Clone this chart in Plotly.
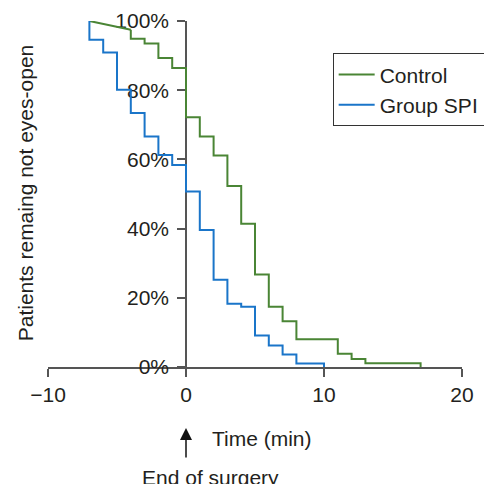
import plotly.graph_objects as go

# ---- data ----
# Control group: initial sloped lead-in, then Kaplan-Meier style steps
ctrl_lead_time = [-7, -4]
ctrl_lead_pct = [100, 97.5]
ctrl_time = [-4, -3, -2, -1, 0, 1, 2, 3, 4, 5, 6, 7, 8, 11, 12, 13, 17]
ctrl_pct = [94.9, 93.5, 89.3, 86.4, 72.2, 66.6, 61.1, 52.3, 41.4, 26.7,
            17.4, 13.2, 8.0, 3.8, 2.3, 1.05, 0]

# Group SPI
spi_start_time = -7
spi_start_pct = 100
spi_time = [-7, -6, -5, -4, -3, -2, -1, 0, 1, 2, 3, 4, 5, 6, 7, 8, 10]
spi_pct = [94.6, 90.9, 80.1, 73.4, 66.6, 61.3, 58.4, 50.7, 39.6, 25.2,
           18.3, 17.4, 9.1, 6.2, 3.6, 1.0, 0]

x_ticks = [-10, 0, 10, 20]
y_ticks = [0, 20, 40, 60, 80, 100]
y_tick_labels = ["0%", "20%", "40%", "60%", "80%", "100%"]

GREEN = "#4a8535"
BLUE = "#1a75c9"
TXT = "#231f20"
AXC = "#555555"
FONT = "Liberation Sans, Arial, Helvetica, sans-serif"
FS = 21

fig = go.Figure()
fig.add_trace(go.Scatter(
    x=ctrl_lead_time, y=ctrl_lead_pct, mode="lines",
    line=dict(color=GREEN, width=2), legendgroup="ctrl", showlegend=False,
    cliponaxis=False, hoverinfo="skip"))
fig.add_trace(go.Scatter(
    x=[ctrl_lead_time[-1]] + ctrl_time, y=[ctrl_lead_pct[-1]] + ctrl_pct,
    mode="lines", line=dict(color=GREEN, width=2, shape="hv"),
    name="Control", legendgroup="ctrl", cliponaxis=False))
fig.add_trace(go.Scatter(
    x=[spi_start_time] + spi_time, y=[spi_start_pct] + spi_pct,
    mode="lines", line=dict(color=BLUE, width=2, shape="hv"),
    name="Group SPI", cliponaxis=False))

# page body has an 8px margin, so the figure is 8px smaller than the window
fig.update_layout(
    width=484, height=476,
    margin=dict(l=40, r=30, t=13, b=117, autoexpand=False),
    paper_bgcolor="white", plot_bgcolor="white",
    font=dict(family=FONT, size=FS, color=TXT),
    showlegend=True,
    legend=dict(x=0.6876, y=0.9066, xanchor="left", yanchor="top",
                bordercolor="#333333", borderwidth=1, bgcolor="white",
                font=dict(size=FS, color=TXT), tracegroupgap=0,
                itemwidth=36),
    xaxis=dict(range=[-10, 20], tickvals=x_ticks, showgrid=False,
               zeroline=False, showline=True, linecolor=AXC, linewidth=1.5,
               ticks="outside", ticklen=8, tickcolor=AXC, tickwidth=1.5,
               automargin=False, tickfont=dict(size=FS, color=TXT),
               layer="below traces"),
    yaxis=dict(range=[0, 100], tickvals=y_ticks, ticktext=y_tick_labels,
               anchor="free", position=1/3, showgrid=False, zeroline=False,
               showline=True, linecolor=AXC, linewidth=1.5,
               ticks="outside", ticklen=8, tickcolor=AXC, tickwidth=1.5,
               ticklabelstandoff=4,
               automargin=False, tickfont=dict(size=FS, color=TXT),
               layer="below traces"),
    annotations=[
        dict(text="Patients remaing not eyes-open", textangle=-90,
             xref="paper", yref="paper", x=-0.054, y=0.504,
             xanchor="center", yanchor="middle", showarrow=False,
             font=dict(size=FS, color=TXT)),
        dict(text="", xref="x", yref="paper", x=0, y=-0.176,
             ax=0, ay=31, showarrow=True, arrowhead=2, arrowsize=1.6,
             arrowwidth=1.5, arrowcolor="#111111"),
        dict(text="Time (min)", xref="x", yref="paper", x=1.76, y=-0.207,
             xanchor="left", yanchor="middle", showarrow=False,
             font=dict(size=FS, color=TXT)),
        dict(text="End of surgery", xref="x", yref="paper", x=1.76, y=-0.318,
             xanchor="center", yanchor="middle", showarrow=False,
             font=dict(size=FS, color=TXT)),
    ],
)

fig.write_html("out.html")
